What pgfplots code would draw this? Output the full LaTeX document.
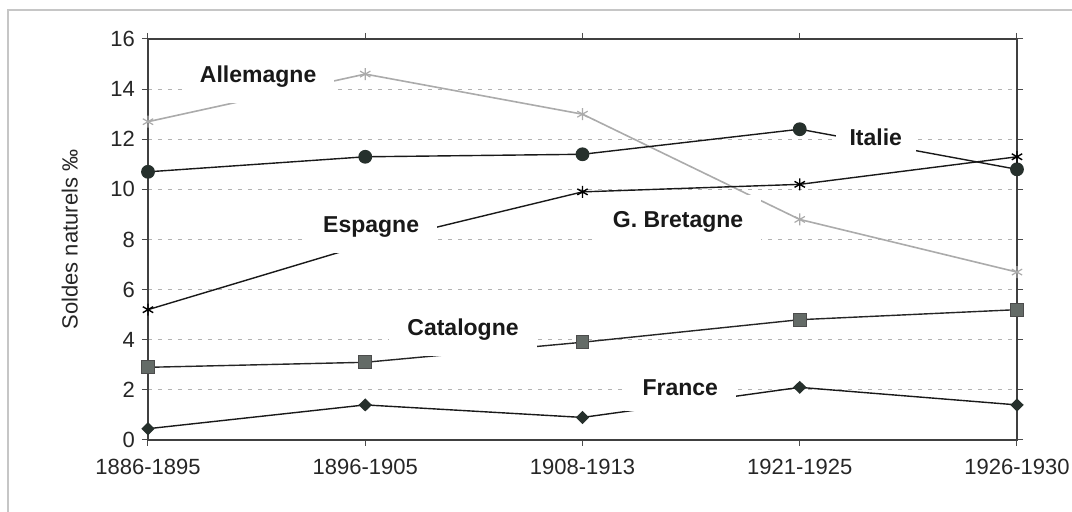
\documentclass[border=0pt]{standalone}
\usepackage{fontspec}
\setmainfont{Liberation Sans}
\usepackage{pgfplots}
\pgfplotsset{compat=1.18}
\definecolor{darkmk}{HTML}{26302C}
\definecolor{sqfill}{HTML}{646B67}
\definecolor{allem}{HTML}{ABABAB}
\begin{document}
\begin{tikzpicture}
\path[use as bounding box] (-74pt,-36pt) rectangle (462pt,220pt);
\draw[gray!45, line width=0.6pt] (-70pt,-40pt) -- (-70pt,215pt) -- (470pt,215pt);
\begin{axis}[
  at={(0,0)}, anchor=south west,
  scale only axis, width=434.5pt, height=200.5pt,
  xmin=0, xmax=4, ymin=0, ymax=16,
  xtick={0,1,2,3,4},
  xticklabels={1886-1895,1896-1905,1908-1913,1921-1925,1926-1930},
  ytick={0,2,...,16},
  /pgf/number format/assume math mode=true,
  tick label style={font=\fontsize{11}{13}\selectfont, text=black!85},
  xticklabel style={yshift=-3pt},
  tick align=outside, major tick length=3pt,
  tick style={black!70, line width=0.5pt},
  axis line style={black!75, line width=0.7pt},
  ymajorgrids, major grid style={gray!60, line width=0.6pt, dash pattern=on 2pt off 3pt},
  ylabel={Soldes naturels ‰},
  ylabel style={font=\fontsize{11}{13}\selectfont, text=black!85, at={(axis description cs:-0.09,0.5)}, anchor=center},
  clip=false,
]
% Allemagne
\addplot[allem, line width=0.8pt, mark=asterisk, mark size=3pt, mark options={allem, line width=0.6pt}]
  coordinates {(0,12.7) (1,14.6) (2,13.0) (3,8.8) (4,6.7)};
% Italie
\addplot[black!90, line width=0.7pt, mark=*, mark size=3.1pt, mark options={fill=darkmk, draw=darkmk}]
  coordinates {(0,10.7) (1,11.3) (2,11.4) (3,12.4) (4,10.8)};
% Espagne (marker at 1896-1905 hidden by its label)
\addplot[black!90, line width=0.7pt, mark=asterisk, mark size=3pt, mark indices={1,3,4,5}, mark options={black, line width=0.7pt}]
  coordinates {(0,5.2) (1,7.8) (2,9.9) (3,10.2) (4,11.3)};
% Catalogne
\addplot[black!85, line width=0.7pt, mark=square*, mark size=3.2pt, mark options={fill=sqfill, draw=black!70, line width=0.5pt}]
  coordinates {(0,2.9) (1,3.1) (2,3.9) (3,4.8) (4,5.2)};
% France
\addplot[black!90, line width=0.7pt, mark=diamond*, mark size=2.8pt, mark options={fill=darkmk, draw=darkmk, xscale=1.35}]
  coordinates {(0,0.45) (1,1.4) (2,0.9) (3,2.1) (4,1.4)};
\tikzset{lbl/.style={fill=white, inner xsep=9pt, inner ysep=8pt, font=\bfseries\fontsize{11.5}{13}\selectfont, text=black!90}}
\node[lbl] at (axis cs:0.507,14.5) {Allemagne};
\node[lbl, inner xsep=7pt] at (axis cs:3.35,12.07) {Italie};
\node[lbl] at (axis cs:1.027,8.5) {Espagne};
\node[lbl] at (axis cs:2.44,8.71) {G. Bretagne};
\node[lbl] at (axis cs:1.45,4.4) {Catalogne};
\node[lbl] at (axis cs:2.45,2.1) {France};
\end{axis}
\end{tikzpicture}
\end{document}
